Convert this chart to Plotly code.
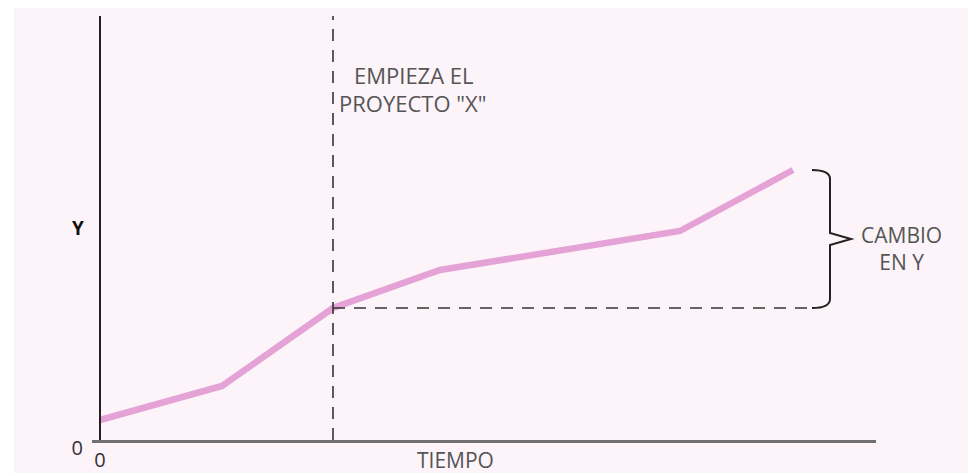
import plotly.graph_objects as go

# ---- data (arbitrary units) ----
tiempo = [0.0, 1.22, 2.33, 3.40, 5.80, 6.93]
valores_y = [0.20, 0.54, 1.32, 1.70, 2.09, 2.70]
inicio_idx = 2                      # point where project "X" starts
x_tick_vals = [0]
x_tick_text = ["0"]
y_tick_vals = [0]
y_tick_text = ["0"]

# the page body adds an 8px offset, so the figure fills the rest of the window
OFF = 8
W, H = 976 - OFF, 473 - OFF
ML, MR, MT, MB = 84, 100, 8, 33
PW, PH = W - ML - MR, H - MT - MB
X_RANGE = [-0.08, -0.08 + PW / 100]
Y_RANGE = [0, PH / 100]

def paper_x(px):          # px: screen pixel
    return (px - OFF - ML) / PW

def paper_y(py):
    return (H - MB - (py - OFF)) / PH

PINK_BG = "#fcf4f9"
LINE_PINK = "#e4a2d6"
TEXT_GRAY = "#555555"
FONT = "Open Sans"

fig = go.Figure()
fig.add_trace(go.Scatter(
    x=tiempo, y=valores_y, mode="lines",
    line=dict(color=LINE_PINK, width=6.5),
    hoverinfo="skip", showlegend=False,
))

x0 = tiempo[inicio_idx]
y0 = valores_y[inicio_idx]
x_last = tiempo[-1]
y_top = valores_y[-1]
y_bot = y0
y_mid = (y_top + y_bot) / 2

shapes = []
# background panel
shapes.append(dict(type="rect", xref="paper", yref="paper",
                   x0=paper_x(14), x1=paper_x(976), y0=paper_y(OFF), y1=paper_y(473),
                   fillcolor=PINK_BG, line=dict(width=0), layer="below"))
# vertical dashed line at project start
shapes.append(dict(type="line", xref="x", yref="paper", x0=x0, x1=x0, y0=0, y1=1,
                   line=dict(color="#333333", width=1.6, dash="12px,9px")))
# horizontal dashed line from project start to brace
shapes.append(dict(type="line", xref="x", yref="y", x0=x0, x1=x_last + 0.22, y0=y0, y1=y0,
                   line=dict(color="#333333", width=1.6, dash="12px,9px")))
# curly brace
ax = x_last + 0.19
bx = x_last + 0.37
tip = x_last + 0.58
r = 0.09
path = (f"M {ax},{y_top} Q {bx},{y_top} {bx},{y_top - r} "
        f"L {bx},{y_mid + 0.06} L {tip},{y_mid} L {bx},{y_mid - 0.06} "
        f"L {bx},{y_bot + r} Q {bx},{y_bot} {ax},{y_bot}")
shapes.append(dict(type="path", xref="x", yref="y", path=path,
                   line=dict(color="#222222", width=2)))

def label(text, px, py, size, color=TEXT_GRAY, **kw):
    return dict(text=text, x=paper_x(px), y=paper_y(py), xref="paper", yref="paper",
                showarrow=False, font=dict(family=FONT, size=size, color=color),
                xanchor="center", yanchor="middle", **kw)

annotations = [
    label("EMPIEZA EL", 414, 75, 22),
    label("PROYECTO \"X\"", 413, 103, 22),
    label("CAMBIO<br>EN Y", 901, 248, 21),
    label("<b>Y</b>", 78, 228, 19, color="#111111"),
    label("TIEMPO", 455, 460, 21),
]

fig.update_layout(
    width=W, height=H,
    margin=dict(l=ML, r=MR, t=MT, b=MB, pad=0, autoexpand=False),
    paper_bgcolor="white",
    plot_bgcolor=PINK_BG,
    shapes=shapes,
    annotations=annotations,
    xaxis=dict(range=X_RANGE, showgrid=False, zeroline=False, automargin=False,
               showline=True, linecolor="#707070", linewidth=3,
               tickvals=x_tick_vals, ticktext=x_tick_text, ticks="",
               ticklabelstandoff=0,
               tickfont=dict(family=FONT, size=20, color="#333333"),
               fixedrange=True),
    yaxis=dict(range=Y_RANGE, showgrid=False, zeroline=False, automargin=False,
               anchor="free", position=paper_x(100),
               showline=True, linecolor="#222222", linewidth=2,
               tickvals=y_tick_vals, ticktext=y_tick_text, ticks="",
               ticklabelstandoff=12, ticklabelshift=8,
               tickfont=dict(family=FONT, size=20, color="#333333"),
               fixedrange=True),
)

fig.write_html("out.html")
